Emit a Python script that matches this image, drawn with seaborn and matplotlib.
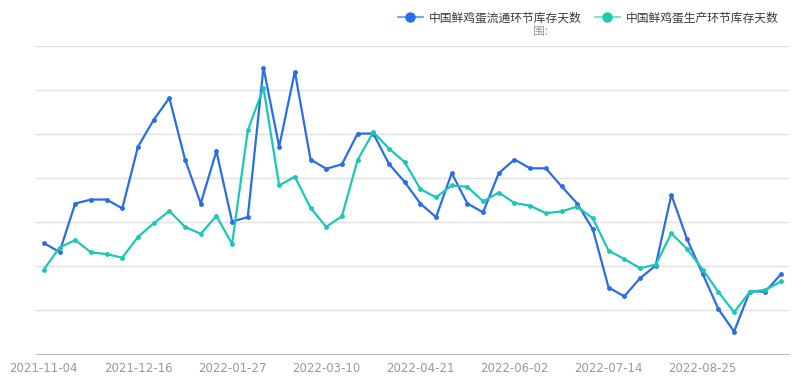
import numpy as np
import pandas as pd
import seaborn as sns
import matplotlib.pyplot as plt
from matplotlib.lines import Line2D

# weekly dates (category axis)
dates = pd.date_range("2021-11-04", periods=48, freq="7D").strftime("%Y-%m-%d").tolist()

# 中国鲜鸡蛋流通环节库存天数
circulation_days = [
    2.52, 2.32, 3.42, 3.51, 3.51, 3.31, 4.71, 5.32, 5.82, 4.42,
    3.42, 4.61, 3.01, 3.11, 6.51, 4.71, 6.42, 4.42, 4.21, 4.31,
    5.01, 5.01, 4.32, 3.91, 3.42, 3.11, 4.11, 3.42, 3.22, 4.11,
    4.42, 4.22, 4.22, 3.81, 3.42, 2.83, 1.51, 1.31, 1.72, 2.01,
    3.62, 2.61, 1.82, 1.02, 0.51, 1.42, 1.42, 1.82,
]
# 中国鲜鸡蛋生产环节库存天数
production_days = [
    1.92, 2.42, 2.59, 2.31, 2.27, 2.19, 2.66, 2.97, 3.25, 2.89,
    2.73, 3.14, 2.50, 5.08, 6.05, 3.83, 4.03, 3.32, 2.89, 3.13,
    4.41, 5.04, 4.67, 4.36, 3.75, 3.56, 3.83, 3.80, 3.47, 3.67,
    3.43, 3.37, 3.20, 3.24, 3.35, 3.08, 2.35, 2.16, 1.95, 2.03,
    2.74, 2.39, 1.92, 1.41, 0.95, 1.41, 1.46, 1.65,
]

series_names = ["中国鲜鸡蛋流通环节库存天数", "中国鲜鸡蛋生产环节库存天数"]
colors = ["#2a6de6", "#1cc7b5"]
legend_line_colors = ["#7aa6f0", "#7fe0d4"]

df = pd.DataFrame({
    "idx": np.arange(len(dates)),
    series_names[0]: circulation_days,
    series_names[1]: production_days,
})

sns.set_style("white")
plt.rcParams["font.family"] = ["Noto Sans CJK SC", "DejaVu Sans"]

fig = plt.figure(figsize=(7.95, 3.89), dpi=100)
ax = fig.add_axes([36 / 795, 35 / 389, 753 / 795, 308 / 389])

for name, c in zip(series_names, colors):
    sns.lineplot(data=df, x="idx", y=name, ax=ax, color=c, linewidth=1.6,
                 marker="o", markersize=3.5, markeredgewidth=0, legend=False)

ax.set_xlim(-0.5, len(dates) - 0.5)
ax.set_ylim(0, 7)
ax.set_yticks(np.arange(1, 8))
ax.set_yticklabels([])
ax.tick_params(axis="y", length=0)
ax.grid(axis="y", color="#e0e0e0", linewidth=1)
ax.set_axisbelow(True)

label_idx = list(range(0, len(dates), 6))
ax.set_xticks(label_idx)
ax.set_xticklabels([dates[i] for i in label_idx], color="#999999", fontsize=8.5,
                   family=["DejaVu Sans"])
ax.set_xticks(np.arange(3, len(dates), 6), minor=True)
ax.tick_params(axis="x", which="major", length=0, pad=6)
ax.tick_params(axis="x", which="minor", length=5, color="#bbbbbb", width=1)
ax.set_xlabel("")
ax.set_ylabel("")

for s in ["top", "right", "left"]:
    ax.spines[s].set_visible(False)
ax.spines["bottom"].set_color("#bbbbbb")

handles = [
    Line2D([0], [0], color=lc, linewidth=1.6, marker="o", markersize=7.5,
           markerfacecolor=c, markeredgewidth=0)
    for c, lc in zip(colors, legend_line_colors)
]
fig.legend(handles, series_names, loc="upper right", bbox_to_anchor=(0.993, 0.998),
           ncol=2, frameon=False, fontsize=8.5, handlelength=2.1, handletextpad=0.55,
           columnspacing=1.1, labelcolor="#3a3a3a")
fig.text(540 / 795, 1 - 31 / 389, "围:", ha="center", va="center", fontsize=8.5,
         color="#999999")

fig.savefig("out.png", dpi=100)
